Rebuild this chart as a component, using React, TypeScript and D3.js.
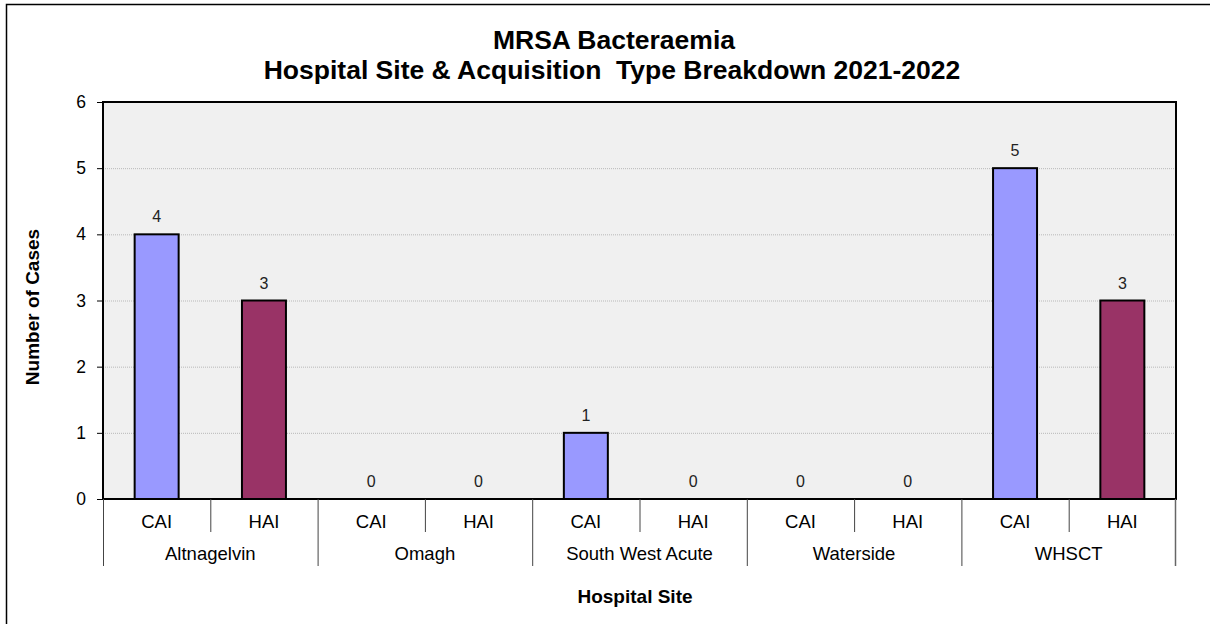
import * as d3 from "d3";
import { useEffect, useRef } from "react";

const sites = ["Altnagelvin", "Omagh", "South West Acute", "Waterside", "WHSCT"];
const types = ["CAI", "HAI"];
const caiValues = [4, 0, 1, 0, 5];
const haiValues = [3, 0, 0, 0, 3];
const yTicks = [0, 1, 2, 3, 4, 5, 6];

const typeColors: Record<string, string> = { CAI: "#9999ff", HAI: "#993366" };

export default function App() {
  const svgRef = useRef<SVGSVGElement | null>(null);

  useEffect(() => {
    if (!svgRef.current) return;
    const width = 1210;
    const height = 624;
    const m = { left: 103, right: 1176, top: 102, bottom: 499 };
    const font = "'Liberation Sans', Arial, sans-serif";

    const svg = d3.select(svgRef.current);
    svg.selectAll("*").remove();

    // outer chart frame (right and bottom edges fall outside the picture)
    svg
      .append("rect")
      .attr("x", 6.5)
      .attr("y", 4.5)
      .attr("width", width + 20)
      .attr("height", height + 20)
      .attr("fill", "#fff")
      .attr("stroke", "#000")
      .attr("stroke-width", 1.5);

    const rows = sites.flatMap((s, i) =>
      types.map((t) => ({
        key: `${s}|${t}`,
        site: s,
        type: t,
        value: t === "CAI" ? caiValues[i] : haiValues[i],
      }))
    );

    const x = d3
      .scaleBand<string>()
      .domain(rows.map((r) => r.key))
      .range([m.left, m.right])
      .paddingInner(0.59)
      .paddingOuter(0.295);
    const slot = d3.scaleBand<string>().domain(rows.map((r) => r.key)).range([m.left, m.right]);
    const y = d3.scaleLinear().domain([0, 6]).range([m.bottom, m.top]);

    svg
      .append("rect")
      .attr("x", m.left)
      .attr("y", m.top)
      .attr("width", m.right - m.left)
      .attr("height", m.bottom - m.top)
      .attr("fill", "#f0f0f0");

    // gridlines
    svg
      .append("g")
      .selectAll("line")
      .data(yTicks.filter((t) => t > 0 && t < 6))
      .join("line")
      .attr("x1", m.left)
      .attr("x2", m.right)
      .attr("y1", (d) => y(d) + 0.5)
      .attr("y2", (d) => y(d) + 0.5)
      .attr("stroke", "#b8b8b8")
      .attr("stroke-width", 1)
      .attr("stroke-dasharray", "1 1");

    // bars
    svg
      .append("g")
      .selectAll("rect")
      .data(rows.filter((r) => r.value > 0))
      .join("rect")
      .attr("x", (d) => x(d.key)!)
      .attr("y", (d) => y(d.value))
      .attr("width", x.bandwidth())
      .attr("height", (d) => y(0) - y(d.value))
      .attr("fill", (d) => typeColors[d.type])
      .attr("stroke", "#000")
      .attr("stroke-width", 2);

    // value labels
    svg
      .append("g")
      .selectAll("text")
      .data(rows)
      .join("text")
      .attr("x", (d) => x(d.key)! + x.bandwidth() / 2)
      .attr("y", (d) => y(d.value) - 12)
      .attr("text-anchor", "middle")
      .attr("font-family", font)
      .attr("font-size", 16)
      .attr("fill", "#222")
      .text((d) => d.value);

    // plot frame
    svg
      .append("rect")
      .attr("x", m.left)
      .attr("y", m.top)
      .attr("width", m.right - m.left)
      .attr("height", m.bottom - m.top)
      .attr("fill", "none")
      .attr("stroke", "#000")
      .attr("stroke-width", 2);

    // y axis
    const yAxis = svg
      .append("g")
      .attr("transform", `translate(${m.left},0)`)
      .call(d3.axisLeft(y).tickValues(yTicks).tickSize(6).tickPadding(11).tickFormat(d3.format("d")));
    yAxis.select(".domain").remove();
    yAxis.selectAll("line").attr("stroke", "#000");
    yAxis.selectAll("text").attr("font-family", font).attr("font-size", 17.5).attr("fill", "#000");

    // x categories
    const cat = svg.append("g");
    rows.forEach((r, i) => {
      const x0 = slot(r.key)!;
      const bw = slot.bandwidth();
      cat
        .append("text")
        .attr("x", x0 + bw / 2)
        .attr("y", 528)
        .attr("text-anchor", "middle")
        .attr("font-family", font)
        .attr("font-size", 18.5)
        .attr("fill", "#000")
        .text(r.type);
      if (i % 2 === 1) {
        cat
          .append("line")
          .attr("x1", x0 + 0.5)
          .attr("x2", x0 + 0.5)
          .attr("y1", m.bottom)
          .attr("y2", 532)
          .attr("stroke", "#444")
          .attr("stroke-width", 1);
      }
    });
    sites.forEach((s, i) => {
      const x0 = slot(`${s}|CAI`)!;
      const bw = slot.bandwidth() * 2;
      cat
        .append("text")
        .attr("x", x0 + bw / 2)
        .attr("y", 560)
        .attr("text-anchor", "middle")
        .attr("font-family", font)
        .attr("font-size", 18.5)
        .attr("fill", "#000")
        .text(s);
      cat
        .append("line")
        .attr("x1", x0 + 0.5)
        .attr("x2", x0 + 0.5)
        .attr("y1", m.bottom)
        .attr("y2", 566)
        .attr("stroke", "#444");
      if (i === sites.length - 1) {
        cat
          .append("line")
          .attr("x1", m.right - 0.5)
          .attr("x2", m.right - 0.5)
          .attr("y1", m.bottom)
          .attr("y2", 566)
          .attr("stroke", "#666")
          .attr("stroke-width", 1.5);
      }
    });

    // titles
    const title = svg
      .append("text")
      .attr("text-anchor", "middle")
      .attr("font-family", font)
      .attr("font-size", 26.5)
      .attr("font-weight", "bold")
      .attr("fill", "#000");
    title.append("tspan").attr("x", 614).attr("y", 49).text("MRSA Bacteraemia");
    title
      .append("tspan")
      .attr("x", 612)
      .attr("y", 79)
      .text("Hospital Site & Acquisition  Type Breakdown 2021-2022")
      .style("white-space", "pre");

    svg
      .append("text")
      .attr("transform", `translate(39,307) rotate(-90)`)
      .attr("text-anchor", "middle")
      .attr("font-family", font)
      .attr("font-size", 19)
      .attr("font-weight", "bold")
      .attr("fill", "#000")
      .text("Number of Cases");

    svg
      .append("text")
      .attr("x", 635)
      .attr("y", 603)
      .attr("text-anchor", "middle")
      .attr("font-family", font)
      .attr("font-size", 19)
      .attr("font-weight", "bold")
      .attr("fill", "#000")
      .text("Hospital Site");
  }, []);

  return (
    <svg
      ref={svgRef}
      width={1210}
      height={624}
      style={{ position: "absolute", left: 0, top: 0, display: "block" }}
    />
  );
}
